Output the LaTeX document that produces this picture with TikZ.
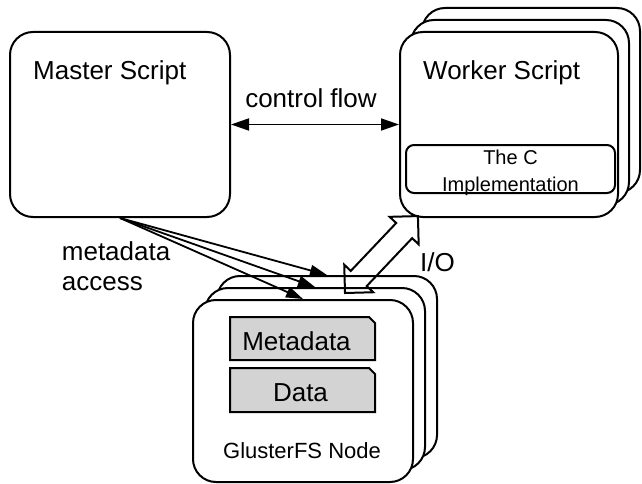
\documentclass[tikz,border=0pt]{standalone}
\usepackage{fontspec}
\setmainfont{Liberation Sans}
\usetikzlibrary{arrows.meta}
\definecolor{docgray}{RGB}{211,211,211}
\begin{document}
\begin{tikzpicture}[x=1pt,y=-1pt,
  box/.style={draw, line width=2pt, fill=white, rectangle, rounded corners=23pt, inner sep=0pt},
  lbl/.style={font=\fontsize{26}{29.5}\selectfont, inner sep=0pt},
  small/.style={font=\fontsize{20}{26.7}\selectfont, inner sep=0pt, align=center},
  conn/.style={line width=1.8pt, -{Triangle[length=17pt,width=11pt]}},
  dualconn/.style={line width=1.8pt, {Triangle[length=18pt,width=12pt]}-{Triangle[length=18pt,width=12pt]}},
  doc/.style={draw, line width=2pt, fill=docgray, line join=miter},
  hollow/.style={draw, line width=2pt, line join=miter}
]
\useasboundingbox (0,0) rectangle (642,484);

% Master
\node[box, minimum width=220pt, minimum height=185pt] (master) at (120,124.5) {};
\node[lbl, anchor=base west] (mastertxt) at (33,79.5) {Master Script};

% Worker stack
\node[box, minimum width=218pt, minimum height=185pt] (w3) at (531,100.5) {};
\node[box, minimum width=218pt, minimum height=185pt] (w2) at (520,112.5) {};
\node[box, minimum width=218pt, minimum height=185pt] (w1) at (509,124.5) {};
\node[lbl, anchor=base west] (workertxt) at (423,80) {Worker Script};
\node[draw, line width=2pt, rectangle, rounded corners=8pt, inner sep=0pt,
      minimum width=209pt, minimum height=48pt] (cimpl) at (510.5,169) {};
\node[small, anchor=base] (cimpltxt) at (510.5,191.5) {The C\\Implementation};

% GlusterFS stack
\node[box, minimum width=220pt, minimum height=182pt] (g3) at (327,367) {};
\node[box, minimum width=220pt, minimum height=182pt] (g2) at (315,379) {};
\node[box, minimum width=220pt, minimum height=182pt] (g1) at (303,391) {};
\path[doc] (230,317) -- (369,317) -- (375,323) -- (375,360) -- (230,360) -- cycle;
\node[lbl, anchor=base] (metatxt) at (296.5,350) {Metadata};
\path[doc] (230,368) -- (369,368) -- (375,374) -- (375,412) -- (230,412) -- cycle;
\node[lbl, anchor=base] (datatxt) at (300.5,401.7) {Data};
\node[font=\fontsize{22}{26}\selectfont, inner sep=0pt, anchor=base] (gtxt) at (302,458.3) {GlusterFS Node};

% control flow
\draw[dualconn] (master.east) -- (w1.west);
\node[lbl, anchor=base] (cftxt) at (311,108) {control flow};

% metadata access
\draw[conn] (master.south) -- (g3.north);
\draw[conn] (master.south) -- (g2.north);
\draw[conn] (master.south) -- (g1.north);
\node[lbl, anchor=base west, align=left] (matxt) at (61.7,290) {metadata\\access};

% I/O hollow double arrow
\begin{scope}[shift={(345,293)}, rotate=46.53]
\path[hollow] (0,0) -- (20,20) -- (20,11) -- (86,11) -- (86,20) -- (106,0)
  -- (86,-20) -- (86,-11) -- (20,-11) -- (20,-20) -- cycle;
\end{scope}
\node[lbl, anchor=base west] (iotxt) at (420,271.5) {I/O};
\end{tikzpicture}
\end{document}
